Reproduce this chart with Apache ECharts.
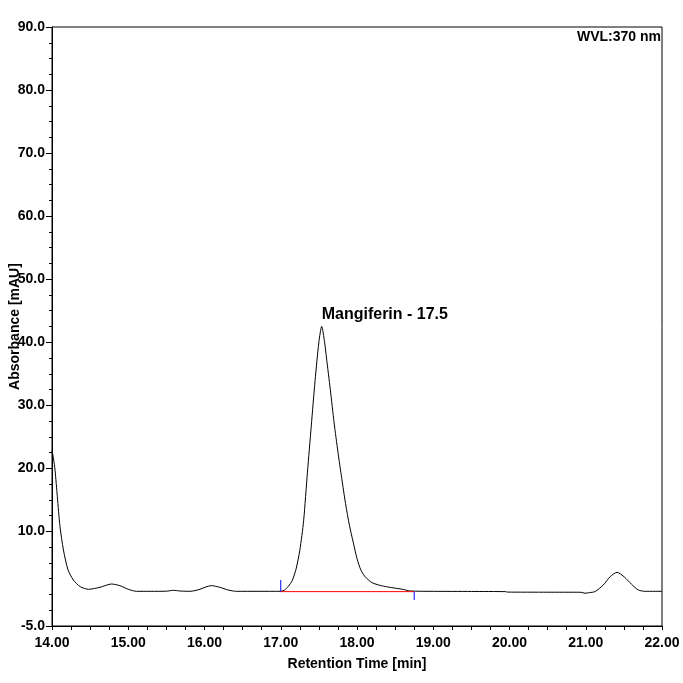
<!DOCTYPE html>
<html>
<head>
<meta charset="utf-8">
<script src="https://cdn.jsdelivr.net/npm/echarts@6/dist/echarts.min.js"></script>
<style>
html,body{margin:0;padding:0;background:#fff;}
#chart{width:683px;height:683px;}
</style>
</head>
<body>
<div id="chart"></div>
<script>
// Retention time (min)
const times = [14.00,14.02,14.04,14.07,14.105,14.15,14.21,14.28,14.37,14.48,14.63,14.78,14.89,15.00,15.11,15.30,15.50,15.59,15.68,15.81,15.94,16.02,16.09,16.20,16.31,16.42,16.70,17.00,17.05,17.10,17.15,17.20,17.25,17.30,17.35,17.40,17.45,17.50,17.537,17.575,17.60,17.65,17.70,17.75,17.80,17.85,17.90,17.95,18.00,18.05,18.10,18.15,18.20,18.30,18.40,18.50,18.60,18.70,19.00,19.50,19.95,19.97,20.50,20.94,20.99,21.05,21.12,21.23,21.32,21.41,21.51,21.60,21.69,21.78,22.00];
// Absorbance (mAU)
const absorbance = [22.9,21.5,19.7,15.5,10.75,7.06,3.9,2.3,1.24,0.82,1.14,1.66,1.4,0.82,0.5,0.5,0.52,0.66,0.55,0.5,0.82,1.2,1.4,1.14,0.71,0.5,0.5,0.5,0.7,1.3,2.2,4.0,7.0,11.7,19.4,26.7,33.9,40.0,42.5,40.0,37.5,32.5,27.2,22.6,18.4,14.4,11.0,8.3,5.7,3.9,2.9,2.3,1.85,1.45,1.2,1.0,0.82,0.55,0.5,0.48,0.45,0.38,0.36,0.35,0.19,0.3,0.45,1.5,2.82,3.52,2.73,1.62,0.71,0.5,0.5];
// Peak integration markers
const baselineStart = [17.0, 0.45];
const baselineEnd = [18.75, 0.45];
const startMarkTop = [17.0, 2.3];
const endMarkBottom = [18.75, -0.87];
const peakName = 'Mangiferin - 17.5';
const peakPoint = [17.537, 42.5];
const wavelengthText = 'WVL:370 nm';
const yMajorLabels = [-5,10,20,30,40,50,60,70,80,90];
const xTitle = 'Retention Time [min]';
const yTitle = 'Absorbance [mAU]';

const FONT = '"Liberation Sans", Arial, sans-serif';
const chart = echarts.init(document.getElementById('chart'), null, {renderer:'canvas'});
const curve = times.map((t,i)=>[t, absorbance[i]]);

chart.setOption({
  backgroundColor:'#fff',
  animation:false,
  grid:{left:52,right:21,top:27,bottom:57,show:true,borderColor:'#000',borderWidth:1,containLabel:false,outerBoundsMode:'none'},
  xAxis:{
    type:'value',min:14,max:22,interval:0.25,
    name:xTitle,nameLocation:'middle',nameGap:31,nameMoveOverlap:false,
    nameTextStyle:{color:'#000',fontSize:14,fontWeight:'bold',fontFamily:FONT},
    axisLine:{show:true,onZero:false,lineStyle:{color:'#000',width:1}},
    axisTick:{show:true,length:4,lineStyle:{color:'#000'}},
    splitLine:{show:false},
    axisLabel:{color:'#000',fontSize:14,fontWeight:'bold',fontFamily:FONT,margin:10,
      showMinLabel:true,showMaxLabel:true,hideOverlap:false,
      formatter:function(v){return Math.abs(v-Math.round(v))<1e-6 ? v.toFixed(2) : '';}}
  },
  yAxis:[{
    type:'value',min:-5,max:90,interval:2.5,
    name:yTitle,nameLocation:'middle',nameGap:30,nameRotate:90,nameMoveOverlap:false,
    nameTextStyle:{color:'#000',fontSize:14,fontWeight:'bold',fontFamily:FONT},
    axisLine:{show:true,onZero:false,lineStyle:{color:'#000',width:1}},
    axisTick:{show:true,length:3,lineStyle:{color:'#000'}},
    splitLine:{show:false},
    axisLabel:{color:'#000',fontSize:14,fontWeight:'bold',fontFamily:FONT,margin:7,
      showMinLabel:true,showMaxLabel:true,hideOverlap:false,
      formatter:function(v){
        for(const m of yMajorLabels){ if(Math.abs(v-m)<1e-6) return v.toFixed(1); }
        return '';
      }}
  },{
    type:'value',min:-5,max:90,interval:2.5,position:'left',offset:0,
    axisLine:{show:false,onZero:false},
    axisTick:{show:true,length:6,customValues:yMajorLabels,lineStyle:{color:'#000'}},
    axisLabel:{show:false},
    splitLine:{show:false}
  }],
  graphic:[{
    type:'text',right:22,top:30,
    style:{text:wavelengthText,fill:'#000',font:'bold 14px '+FONT}
  }],
  series:[{
    type:'line',data:curve,yAxisIndex:0,showSymbol:false,smooth:0.25,
    lineStyle:{color:'#000',width:1},z:3,
    markPoint:{
      symbol:'circle',symbolSize:0,
      data:[{coord:peakPoint,value:peakName}],
      label:{show:true,position:'inside',align:'left',verticalAlign:'bottom',offset:[0,-4],
        formatter:peakName,color:'#000',fontSize:16,fontWeight:'bold',fontFamily:FONT}
    }
  },{
    type:'line',data:[baselineStart,baselineEnd],showSymbol:false,
    lineStyle:{color:'#ff0000',width:1},z:4
  },{
    type:'line',data:[baselineStart,startMarkTop],showSymbol:false,
    lineStyle:{color:'#0000ff',width:1},z:4
  },{
    type:'line',data:[baselineEnd,endMarkBottom],showSymbol:false,
    lineStyle:{color:'#0000ff',width:1},z:4
  }]
});
</script>
</body>
</html>
